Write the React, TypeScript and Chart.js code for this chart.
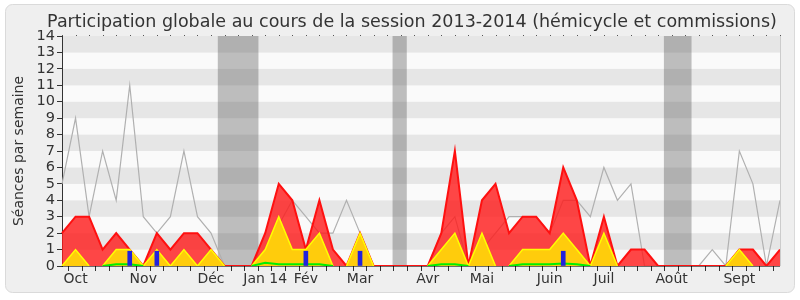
import React, { useEffect, useRef } from 'react';
import { Chart, registerables } from 'chart.js';

Chart.register(...registerables);

const TITLE = 'Participation globale au cours de la session 2013-2014 (hémicycle et commissions)';
const Y_TITLE = 'Séances par semaine';

// one entry per week (54 weeks, Sept 2013 -> Sept 2014)
const monthLabels = [
  '', 'Oct', '', '', '', '', 'Nov', '', '', '', '', 'Déc', '', '', '', 'Jan 14', '', '', 'Fév', '', '',
  '', 'Mar', '', '', '', '', 'Avr', '', '', '', 'Mai', '', '', '', '', 'Juin', '', '', '', 'Juil', '',
  '', '', '', 'Août', '', '', '', '', 'Sept', '', '', '',
];

// grey line: total weekly sessions
const totalSeances = [
  5, 9, 3, 7, 4, 11, 3, 2, 3, 7,
  3, 2, 0, 0, 0, 1, 2.5, 4, 3, 2,
  2, 4, 2, 0, 0, 0, 0, 0, 2, 3,
  0, 1, 2, 3, 3, 3, 2, 4, 4, 3,
  6, 4, 5, 0, 0, 0, 0, 0, 1, 0,
  7, 5, 0, 4,
];

// red area
const presencesCommission = [
  2, 3, 3, 1, 2, 1, 0, 2, 1, 2,
  2, 1, 0, 0, 0, 2, 5, 4, 1, 4,
  1, 0, 2, 0, 0, 0, 0, 0, 2, 7,
  0, 4, 5, 2, 3, 3, 2, 6, 4, 0,
  3, 0, 1, 1, 0, 0, 0, 0, 0, 0,
  1, 1, 0, 1,
];

// yellow area
const presencesHemicycle = [
  0, 1, 0, 0, 1, 1, 0, 1, 0, 1,
  0, 1, 0, 0, 0, 1, 3, 1, 1, 2,
  0, 0, 2, 0, 0, 0, 0, 0, 1, 2,
  0, 2, 0, 0, 1, 1, 1, 2, 1, 0,
  2, 0, 0, 0, 0, 0, 0, 0, 0, 0,
  1, 0, 0, 0,
];

// green line
const interventions = [
  0, 0, 0, 0, 0.1, 0.1, 0, 0, 0, 0,
  0, 0, 0, 0, 0, 0.2, 0.1, 0.1, 0.1, 0.1,
  0, 0, 0, 0, 0, 0, 0, 0, 0.1, 0.1,
  0, 0, 0, 0, 0.1, 0.1, 0.1, 0.15, 0.1, 0,
  0, 0, 0, 0, 0, 0, 0, 0, 0, 0,
  0, 0, 0, 0,
];

// blue bars
const questionsOrales = [
  null, null, null, null, null, 0.9, null, 0.9, null, null,
  null, null, null, null, null, null, null, null, 0.9, null,
  null, null, 0.9, null, null, null, null, null, null, null,
  null, null, null, null, null, null, null, 0.9, null, null,
  null, null, null, null, null, null, null, null, null, null,
  null, null, null, null,
];

// parliamentary holidays, as week-index ranges
const vacancesDebut = [11.5, 24.4, 44.43];
const vacancesFin = [14.5, 25.45, 46.47];

const FONT = '"DejaVu Sans", sans-serif';

const zeroSeg = (color: string) => (c: any) =>
  c.p0.parsed.y === 0 && c.p1.parsed.y === 0 ? 'rgba(0,0,0,0)' : color;

const decorPlugin = {
  id: 'decor',
  beforeDraw(chart: any) {
    const { ctx, chartArea: a, scales } = chart;
    const x = scales.x;
    const y = scales.y;
    ctx.save();
    ctx.fillStyle = '#ffffff';
    ctx.fillRect(0, 0, chart.width, chart.height);
    // frame
    ctx.beginPath();
    const fx = 5.5, fy = 4.5, fw = 789, fh = 288, r = 7;
    ctx.moveTo(fx + r, fy);
    ctx.arcTo(fx + fw, fy, fx + fw, fy + fh, r);
    ctx.arcTo(fx + fw, fy + fh, fx, fy + fh, r);
    ctx.arcTo(fx, fy + fh, fx, fy, r);
    ctx.arcTo(fx, fy, fx + fw, fy, r);
    ctx.closePath();
    ctx.fillStyle = '#efefef';
    ctx.fill();
    ctx.strokeStyle = '#dadada';
    ctx.lineWidth = 1;
    ctx.stroke();
    // stripes
    for (let v = 0; v < 14; v++) {
      const top = y.getPixelForValue(v + 1);
      const bot = y.getPixelForValue(v);
      ctx.fillStyle = v % 2 === 1 ? '#e6e6e6' : '#fafafa';
      ctx.fillRect(a.left, top, a.right - a.left, bot - top);
    }
    // holidays
    ctx.fillStyle = 'rgba(90,90,90,0.38)';
    for (let i = 0; i < vacancesDebut.length; i++) {
      const x0 = x.getPixelForValue(vacancesDebut[i]);
      const x1 = x.getPixelForValue(vacancesFin[i]);
      ctx.fillRect(x0, a.top, x1 - x0, a.bottom - a.top);
    }
    // title
    ctx.fillStyle = '#333333';
    ctx.font = `17.5px ${FONT}`;
    ctx.textAlign = 'center';
    ctx.textBaseline = 'alphabetic';
    ctx.fillText(TITLE, 412, 27);
    // y title
    ctx.save();
    ctx.translate(23, (a.top + a.bottom) / 2);
    ctx.rotate(-Math.PI / 2);
    ctx.font = `14px ${FONT}`;
    ctx.fillText(Y_TITLE, 0, 0);
    ctx.restore();
    ctx.restore();
  },
  afterDatasetsDraw(chart: any) {
    const { ctx, chartArea: a, scales } = chart;
    const x = scales.x;
    ctx.save();
    ctx.strokeStyle = 'rgba(0,0,0,0.55)';
    ctx.lineWidth = 1;
    ctx.beginPath();
    ctx.moveTo(a.left, Math.round(a.bottom) + 0.5);
    ctx.lineTo(a.right, Math.round(a.bottom) + 0.5);
    ctx.stroke();
    ctx.strokeStyle = '#cccccc';
    ctx.beginPath();
    ctx.moveTo(Math.round(a.right) + 0.5, a.top);
    ctx.lineTo(Math.round(a.right) + 0.5, a.bottom);
    ctx.stroke();
    ctx.fillStyle = '#555555';
    for (let i = 0; i < monthLabels.length; i++) {
      const px = Math.round(x.getPixelForValue(i));
      ctx.fillRect(px, Math.round(a.top) - 1, 1, 1);
    }
    ctx.restore();
  },
};

export default function App() {
  const ref = useRef<HTMLCanvasElement>(null);
  useEffect(() => {
    document.body.style.margin = '0';
    const canvas = ref.current;
    if (!canvas) return;
    const chart = new Chart(canvas, {
      type: 'line',
      data: {
        labels: monthLabels.map((_, i) => String(i)),
        datasets: [
          {
            type: 'bar',
            data: questionsOrales as any,
            backgroundColor: '#2222dd',
            barThickness: 4,
            order: 0,
          } as any,
          {
            data: interventions,
            borderColor: '#00ee00',
            borderWidth: 2,
            pointRadius: 0,
            fill: false,
            tension: 0,
            order: 1,
            segment: { borderColor: zeroSeg('#00ee00') },
          },
          {
            data: presencesHemicycle,
            borderColor: '#ffff00',
            backgroundColor: 'rgba(255,212,10,0.95)',
            borderWidth: 1.5,
            pointRadius: 0,
            fill: 'origin',
            tension: 0,
            order: 2,
            segment: { borderColor: zeroSeg('#ffff00') },
          },
          {
            data: presencesCommission,
            borderColor: '#ff1010',
            backgroundColor: 'rgba(255,25,25,0.8)',
            borderWidth: 2,
            pointRadius: 0,
            fill: 'origin',
            tension: 0,
            order: 3,
          },
          {
            data: totalSeances,
            borderColor: '#b0b0b0',
            borderWidth: 1.2,
            pointRadius: 0,
            fill: false,
            tension: 0,
            order: 4,
          },
        ],
      },
      options: {
        responsive: false,
        animation: false,
        devicePixelRatio: 1,
        layout: { padding: { top: 36, right: 20, left: 0, bottom: 0 } },
        plugins: {
          legend: { display: false },
          title: { display: false },
          tooltip: { enabled: false },
        },
        scales: {
          x: {
            offset: false,
            grid: {
              display: true,
              drawOnChartArea: false,
              drawTicks: true,
              tickLength: 5,
              tickColor: '#333333',
            },
            border: { display: false },
            ticks: {
              autoSkip: false,
              maxRotation: 0,
              minRotation: 0,
              padding: 0,
              color: '#333333',
              font: { family: FONT, size: 14 },
              callback: (_v: any, i: number) => monthLabels[i],
            },
            afterFit: (s: any) => {
              s.height = 34;
              s.paddingLeft = 0;
              s.paddingRight = 0;
            },
          },
          y: {
            min: 0,
            max: 14,
            grid: {
              display: true,
              drawOnChartArea: false,
              drawTicks: true,
              tickLength: 5,
              tickColor: '#333333',
            },
            border: { display: true, color: '#333333', width: 1 },
            ticks: {
              autoSkip: false,
              stepSize: 1,
              padding: 2,
              color: '#333333',
              font: { family: FONT, size: 14.5 },
            },
            afterFit: (s: any) => {
              s.width = 62;
              s.paddingTop = 0;
              s.paddingBottom = 0;
            },
          },
        },
      },
      plugins: [decorPlugin],
    });
    return () => chart.destroy();
  }, []);
  return (
    <div style={{ width: 800, height: 300 }}>
      <canvas ref={ref} width={800} height={300} style={{ display: 'block', width: 800, height: 300 }} />
    </div>
  );
}
